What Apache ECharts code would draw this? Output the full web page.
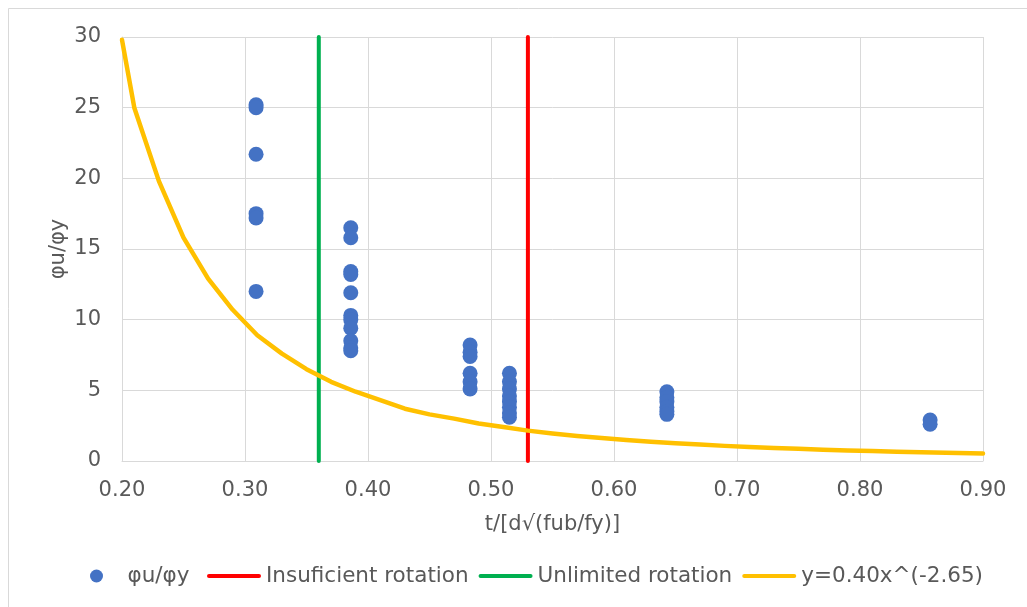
<!DOCTYPE html>
<html>
<head>
<meta charset="utf-8">
<script src="https://cdn.jsdelivr.net/npm/echarts@6/dist/echarts.min.js"></script>
<style>
html,body{margin:0;padding:0;background:#fff;}
#chart{width:1027px;height:607px;}
</style>
</head>
<body>
<div id="chart"></div>
<script>
// Measured points (x = t/[d√(fub/fy)], y = φu/φy)
const testX = [0.309,0.309,0.309,0.309,0.309,0.309,
  0.386,0.386,0.386,0.386,0.386,0.386,0.386,0.386,0.386,0.386,0.386,
  0.483,0.483,0.483,0.483,0.483,0.483,
  0.515,0.515,0.515,0.515,0.515,0.515,0.515,0.515,
  0.643,0.643,0.643,0.643,0.643,0.643,
  0.857,0.857];
const testY = [25.2,25.0,21.7,17.5,17.2,12.0,
  16.5,15.8,13.4,13.2,11.9,10.3,10.0,9.4,8.5,8.0,7.8,
  8.2,7.7,7.4,6.2,5.6,5.1,
  6.2,5.6,5.1,4.6,4.2,3.8,3.4,3.1,
  4.9,4.5,4.2,3.8,3.5,3.3,
  2.9,2.6];
// Limit lines
const insufficientX = 0.53;
const unlimitedX = 0.36;
const limitYRange = [0, 30];
// Fitted curve y=0.40x^(-2.65), read as drawn
const curveX = [0.20,0.21,0.23,0.25,0.27,0.29,0.31,0.33,0.35,0.37,0.39,0.41,0.43,0.45,0.47,0.49,0.51,0.53,0.55,0.57,0.59,0.61,0.63,0.65,0.67,0.69,0.71,0.73,0.75,0.77,0.79,0.81,0.83,0.85,0.87,0.89,0.90];
const curveY = [29.8,25.0,19.8,15.8,12.9,10.7,8.9,7.6,6.5,5.6,4.9,4.3,3.7,3.3,3.0,2.65,2.4,2.15,1.95,1.77,1.62,1.48,1.36,1.25,1.16,1.07,0.99,0.92,0.86,0.80,0.75,0.70,0.66,0.62,0.58,0.54,0.53];
// Axis ticks
const xTicks = {min:0.2, max:0.9, interval:0.1};
const yTicks = {min:0, max:30, interval:5};
const names = ['φu/φy','Insuficient rotation','Unlimited rotation','y=0.40x^(-2.65)'];

const FONT = 'DejaVu Sans';
const TXT = '#595959';
const GRID = '#D9D9D9';
const BAR = 'path://M2,0 L52,0 A2,2 0 0 1 52,4 L2,4 A2,2 0 0 1 2,0 Z';

const chart = echarts.init(document.getElementById('chart'), null, {renderer:'canvas'});
const pts = testX.map((x,i)=>[x,testY[i]]);
const curve = curveX.map((x,i)=>[x,curveY[i]]);
const legendText = {fontFamily:FONT,fontSize:21.5,color:TXT};

chart.setOption({
  backgroundColor:'#fff',
  animation:false,
  textStyle:{fontFamily:FONT},
  graphic:[{type:'rect',shape:{x:8.5,y:8.5,width:1040,height:640},style:{fill:'none',stroke:GRID,lineWidth:1},silent:true,z:-10}],
  grid:{left:122,right:44,top:37,bottom:146,containLabel:false},
  legend:[
    {bottom:15,left:85,itemWidth:54,itemHeight:13,itemGap:10,textStyle:legendText,
     data:[{name:names[0],icon:'circle',textStyle:{padding:[0,0,0,-1]}}]},
    {bottom:15,left:202,itemWidth:54,itemHeight:13,itemGap:10,textStyle:legendText,
     data:[{name:names[1],icon:BAR},{name:names[2],icon:BAR},{name:names[3],icon:BAR}]}
  ],
  xAxis:{
    type:'value',min:xTicks.min,max:xTicks.max,interval:xTicks.interval,
    name:'t/[d√(fub/fy)]',nameLocation:'middle',nameGap:53,
    nameTextStyle:{fontFamily:FONT,fontSize:21,color:TXT},
    axisLine:{show:true,lineStyle:{color:GRID,width:1}},
    axisTick:{show:false},
    axisLabel:{fontFamily:FONT,fontSize:21,color:TXT,margin:19,formatter:v=>v.toFixed(2)},
    splitLine:{show:true,lineStyle:{color:GRID,width:1}}
  },
  yAxis:{
    type:'value',min:yTicks.min,max:yTicks.max,interval:yTicks.interval,
    name:'φu/φy',nameLocation:'middle',nameGap:53,nameRotate:90,nameMoveOverlap:false,
    nameTextStyle:{fontFamily:FONT,fontSize:21,color:TXT},
    axisLine:{show:true,lineStyle:{color:GRID,width:1}},
    axisTick:{show:false},
    axisLabel:{fontFamily:FONT,fontSize:21,color:TXT,margin:21},
    splitLine:{show:true,lineStyle:{color:GRID,width:1}}
  },
  series:[
    {name:names[0],type:'scatter',data:pts,symbol:'circle',symbolSize:15,
     itemStyle:{color:'#4472C4',opacity:1},z:3},
    {name:names[1],type:'line',data:[[insufficientX,limitYRange[0]],[insufficientX,limitYRange[1]]],
     symbol:'none',showSymbol:false,lineStyle:{color:'#FF0000',width:4,cap:'round'},itemStyle:{color:'#FF0000'},z:4},
    {name:names[2],type:'line',data:[[unlimitedX,limitYRange[0]],[unlimitedX,limitYRange[1]]],
     symbol:'none',showSymbol:false,lineStyle:{color:'#00B050',width:4,cap:'round'},itemStyle:{color:'#00B050'},z:4},
    {name:names[3],type:'line',data:curve,symbol:'none',showSymbol:false,smooth:false,
     lineStyle:{color:'#FFC000',width:4.5,cap:'round',join:'round'},itemStyle:{color:'#FFC000'},z:5}
  ]
});
</script>
</body>
</html>
